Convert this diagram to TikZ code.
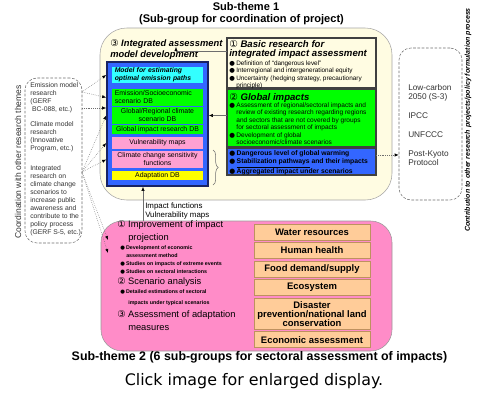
\documentclass[tikz,border=0pt]{standalone}
\usepackage{fontspec}
\setmainfont{Liberation Sans}
\newfontfamily\symfont{DejaVu Sans}
\usetikzlibrary{positioning,fit,arrows.meta,decorations.pathreplacing}

\definecolor{mycream}{RGB}{255,252,226}
\definecolor{myblue}{RGB}{51,102,255}
\definecolor{mynavy}{RGB}{25,35,100}
\definecolor{mycyan}{RGB}{51,255,255}
\definecolor{mygreen}{RGB}{0,255,0}
\definecolor{mypink}{RGB}{255,160,210}
\definecolor{mydeeppink}{RGB}{255,140,200}
\definecolor{myyellow}{RGB}{255,255,0}
\definecolor{mypeach}{RGB}{255,204,153}
\definecolor{mypeachline}{RGB}{190,145,95}
\definecolor{mygray}{RGB}{110,110,110}

\newcommand\fsz[2]{\fontsize{#1}{#2}\selectfont}
\newcommand\cnum[1]{{\symfont\upshape\mdseries\ifcase#1\or ①\or ②\or ③\fi}}
\newcommand\bul{\makebox[1.1em][l]{\symfont\upshape\mdseries ●}}
\newcommand\ind{\hspace*{1.1em}}

\begin{document}
\begin{tikzpicture}[x=0.75pt,y=-0.75pt,
  box/.style={draw, inner sep=0pt, outer sep=0pt, anchor=north west},
  dbbox/.style={box, draw=none, minimum width=68.25pt, font=\fsz{5.2}{6}, align=center},
  panel/.style={box, draw=black!75, line width=0.8pt, minimum width=111.75pt},
  sector/.style={draw=mypeachline, fill=mypeach, inner sep=0pt, outer sep=0pt,
    minimum width=87pt, minimum height=12pt, align=center, font=\bfseries\fsz{7.1}{6.75}},
  group/.style={draw=mygray, dash pattern=on 2pt off 1.2pt, rounded corners=9pt, inner sep=0pt},
  txt/.style={inner sep=0pt, align=left, anchor=north west},
  dotlink/.style={densely dotted, mygray, -{Latex[length=3pt,width=2.4pt,color=black]}},
  link/.style={mygray, -{Latex[length=3pt,width=2.4pt,color=black]}}
]
\useasboundingbox (0,0) rectangle (500,400);
\fill[white] (0,0) rectangle (500,400);

% sub-theme 1
\node[font=\bfseries\fsz{8.3}{10}] (title1) at (246,7) {Sub-theme 1};
\node[font=\bfseries\fsz{8.3}{10}] (title1b) at (241.5,20) {(Sub-group for coordination of project)};
\node[fit={(100,28)(392,200)}, inner sep=0pt, draw=black!35, fill=mycream, rounded corners=20pt] (theme1) {};

\node[txt, font=\bfseries\itshape\fsz{7}{8.3}] (iahead) at (110,39.5) {\cnum3 Integrated assessment\\model development};
\node[fit={(107,62)(208,186)}, inner sep=0pt, draw=mynavy, line width=1.2pt, fill=myblue] (assess) {};

\node[dbbox, fill=mycyan, minimum height=12pt, text width=64pt, align=left,
  font=\bfseries\itshape\fsz{5.1}{5.9}] (optpath) at (112,67) {Model for estimating\\optimal emission paths};
\node[dbbox, fill=mygreen, minimum height=12.75pt, text width=64pt, align=left] (emisdb) at (112,89) {Emission/Socioeconomic\\scenario DB};
\node[dbbox, fill=mygreen, minimum height=12.75pt] (climdb) at (112,107) {Global/Regional climate\\scenario DB};
\node[dbbox, fill=mygreen, minimum height=6.75pt] (impdb) at (112,125) {Global impact research DB};
\node[dbbox, fill=mypink, minimum height=9pt] (vuln) at (112,137) {Vulnerability maps};
\node[dbbox, fill=mypink, minimum height=12.75pt] (sens) at (112,151) {Climate change sensitivity\\functions};
\node[dbbox, fill=myyellow, minimum height=6.5pt] (adapt) at (112,171) {Adaptation DB};

% right panels
\node[panel, fill=mycream, minimum height=37.5pt] (basic) at (227,38) {};
\node[panel, fill=mygreen, minimum height=43.5pt] (global) at (227,89) {};
\node[panel, fill=myblue, minimum height=20.25pt] (warm) at (227,148) {};

\node[txt, font=\bfseries\itshape\fsz{7.2}{6.75}] (basichead) at (229,40) {\cnum1 Basic research for\\integrated impact assessment};
\node[txt, font=\fsz{4.8}{5.5}] (basicbul) at (229,60.5) {\bul Definition of ``dangerous level''\\\bul Interregional and intergenerational equity\\\bul Uncertainty (hedging strategy, precautionary\\\ind principle)};
\node[txt, font=\bfseries\itshape\fsz{7.2}{8}] (globalhead) at (229,93) {\cnum2 Global impacts};
\node[txt, font=\fsz{4.9}{5.55}] (globalbul) at (229,102.4) {\bul Assessment of regional/sectoral impacts and\\\ind review of existing research regarding regions\\\ind and sectors that are not covered by groups\\\ind for sectoral assessment of impacts\\\bul Development of global\\\ind socioeconomic/climate scenarios};
\node[txt, font=\bfseries\fsz{5.1}{6}] (warmbul) at (229,150.3) {\bul Dangerous level of global warming\\\bul \underline{Stabilization pathways} and their impacts\\\bul Aggregated impact under scenarios};

% other research themes
\node[fit={(25,78)(82,243)}, group] (coord) {};
\node[txt, font=\fsz{5.1}{6}, text=black!80] (emis) at (30,82) {Emission model\\research\\(GERF\\\ BC-088, etc.)};
\node[txt, font=\fsz{5.1}{6}, text=black!80] (clim) at (30,121) {Climate model\\research\\(Innovative\\Program, etc.)};
\node[txt, font=\fsz{5.1}{6}, text=black!80] (integ) at (30,165) {Integrated\\research on\\climate change\\scenarios to\\increase public\\awareness and\\contribute to the\\policy process\\(GERF S-5, etc.)};
\node[rotate=90, font=\fsz{6.4}{7}, text=black!80] (coordlabel) at (18,162) {Coordination with other research themes};

% policy process
\node[fit={(399,48)(462,200)}, group] (policy) {};
\node[txt, font=\fsz{6.2}{7.1}, text=black!80] (policytxt) at (408,84) {Low-carbon\\2050 (S-3)\\[7.1pt]IPCC\\[7.1pt]UNFCCC\\[7.1pt]Post-Kyoto\\Protocol};
\node[rotate=90, font=\bfseries\itshape\fsz{5.3}{6}] (contrib) at (468,120) {Contribution to other research projects/policy formulation process};

% sub-theme 2
\node[fit={(101,221)(392,351)}, inner sep=0pt, draw=black!40, fill=mydeeppink, rounded corners=16pt] (theme2) {};
\foreach \xx/\yy/\txt [count=\i] in {117/225/{\cnum1 Improvement of impact}, 128/238/projection,
    117/282/{\cnum2 Scenario analysis}, 117/315/{\cnum3 Assessment of adaptation}, 128/328/measures}
  \node[anchor=west, inner sep=0pt, font=\fsz{7}{8}] (studyhead\i) at (\xx,\yy) {\txt};
\foreach \xx/\yy/\txt [count=\i] in {120/248/{\bul Development of economic}, 126/256/{assessment method},
    120/264/{\bul Studies on impacts of extreme events}, 120/272/{\bul Studies on sectoral interactions},
    120/292/{\bul Detailed estimations of sectoral}, 128/303/{impacts under typical scenarios}}
  \node[anchor=west, inner sep=0pt, font=\bfseries\fsz{4}{5}] (studybul\i) at (\xx,\yy) {\txt};

\node[sector, anchor=north west] (water) at (254,224) {Water resources};
\node[sector, below=1.9pt of water] (health) {Human health};
\node[sector, below=1.9pt of health] (food) {Food demand/supply};
\node[sector, below=1.9pt of food] (eco) {Ecosystem};
\node[sector, below=1.9pt of eco, minimum height=23.25pt] (disaster) {Disaster\\prevention/national land\\conservation};
\node[sector, below=1.9pt of disaster] (econ) {Economic assessment};

\node[font=\bfseries\fsz{9.3}{11}] (title2) at (259.5,357) {Sub-theme 2 (6 sub-groups for sectoral assessment of impacts)};
\node[font=\symfont\fsz{11.9}{14}] (click) at (254,381) {Click image for enlarged display.};

\node[anchor=west, inner sep=0pt, align=left, font=\fsz{5.9}{6.75}] (implabel) at (145,210.5) {Impact functions\\Vulnerability maps};

% connectors
\draw[link] ([xshift=-1.5pt]implabel.west |- theme2.north) -- ([xshift=-1.5pt]implabel.west |- assess.south);
\draw[link] (global.west |- climdb) -- (assess.east |- climdb);
\coordinate (hdbend) at (176,51);
\coordinate (hdtip) at (176,47);
\draw[link] (basic.west |- hdbend) -- (hdbend) -- (hdtip);
\coordinate (bracetop) at (213,150);
\coordinate (bracebot) at (213,185);
\draw[mygray, decorate, decoration={brace, amplitude=4pt}] (bracetop) -- (bracebot);
\draw[dotlink] ([yshift=4.9pt]warm.east) -- ([yshift=4.9pt]warm.east -| policy.west);

\coordinate (emisout) at (82,92);
\coordinate (bcout) at (82,108);
\coordinate (integout) at (82,172);
\coordinate (pinkin1) at (108,240);
\coordinate (pinkin2) at (108,253);
\draw[dotlink] (emisout) -- (assess.west |- optpath);
\draw[dotlink] (emisout) -- (assess.west |- emisdb);
\draw[dotlink] (bcout) -- (bcout -| assess.west);
\foreach \tgt in {climdb, vuln, sens}
  \draw[dotlink] (integout) -- (assess.west |- \tgt);
\draw[dotlink] (integout) -- (pinkin1);
\draw[dotlink] (integout) -- (pinkin2);
\end{tikzpicture}
\end{document}
